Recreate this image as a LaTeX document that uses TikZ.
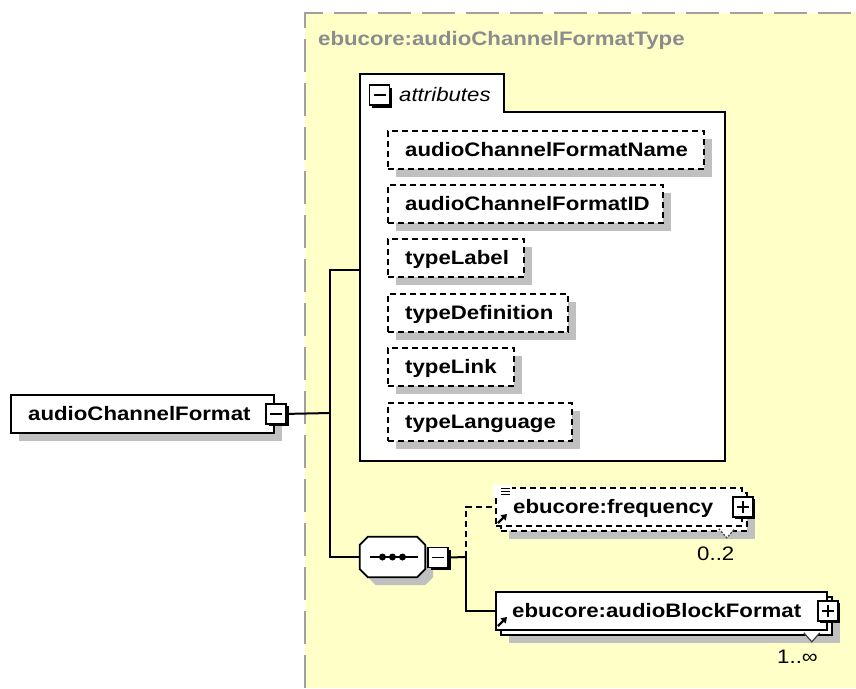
\documentclass[tikz,border=0pt]{standalone}
\usepackage{fontspec}
\setmainfont{Liberation Sans}
\newfontfamily\dfont[FakeStretch=1.14]{Liberation Sans}
\usetikzlibrary{shadows,arrows.meta}

\definecolor{typefill}{HTML}{FFFFC8}
\definecolor{typeframe}{HTML}{A0A0A0}
\definecolor{typetitle}{HTML}{8C8C8C}
\definecolor{shade}{HTML}{C0C0C0}

\tikzset{
  every node/.style={font=\dfont\fontsize{19.5}{23}\selectfont},
  gshadow/.style={drop shadow={shadow xshift=8pt, shadow yshift=-8pt, fill=shade, opacity=1}},
  kshadow/.style={drop shadow={shadow xshift=2.5pt, shadow yshift=-2.5pt, fill=black, opacity=1}},
  elembox/.style={draw, line width=1.8pt, fill=white, anchor=north west,
    minimum height=38pt, inner sep=0pt},
  optbox/.style={elembox, dash pattern=on 6pt off 4pt},
  boxtext/.style={anchor=base west, inner sep=0pt,
    font=\dfont\fontsize{19.5}{23}\selectfont\bfseries},
  plaintext/.style={anchor=base west, inner sep=0pt},
  wire/.style={line width=2pt, draw=black},
  optwire/.style={wire, dash pattern=on 6pt off 4pt},
  toggle/.style={draw, line width=1.8pt, fill=white, minimum size=20pt,
    inner sep=0pt, kshadow},
  minus/.style={toggle, path picture={\draw[line width=1.8pt]
      ([xshift=4pt]path picture bounding box.west) --
      ([xshift=-4pt]path picture bounding box.east);}},
  plus/.style={toggle, path picture={\draw[line width=1.8pt]
      ([xshift=4pt]path picture bounding box.west) --
      ([xshift=-4pt]path picture bounding box.east)
      ([yshift=-4pt]path picture bounding box.north) --
      ([yshift=4pt]path picture bounding box.south);}},
  multmark/.style={draw=black!75, line width=1.2pt, fill=white},
  refarrow/.style={line width=2.2pt, -{Triangle[length=5.5pt,width=7pt]}},
}

\begin{document}
\begin{tikzpicture}[x=1pt,y=-1pt]
\useasboundingbox (0,0) rectangle (856,688);

% complex type area
\fill[typefill] (305,13) rectangle (856,688);
\draw[typeframe, line width=2pt, dash pattern=on 33pt off 11pt]
  (305,688) -- (305,13) -- (856,13);
\node[plaintext, text=typetitle, font=\dfont\fontsize{19.5}{23}\selectfont\bfseries]
  (title) at (318,45) {ebucore:audioChannelFormatType};

% named anchor points of the connectors
\coordinate (bus) at (330,413);
\coordinate (attrin) at (360,270);
\coordinate (fork) at (466,557);
\node[minimum width=65pt, minimum height=40pt, inner sep=0pt] (seq) at (392.5,557) {};

% attribute group frame with its tab
\node[minimum width=365pt, minimum height=387pt, anchor=north west, inner sep=0pt]
  (attr) at (360,74) {};
\draw[line width=2pt, fill=white]
  (attr.north west) -- ++(144,0) -- ++(0,38) -- (attr.east |- 0,112)
  -- (attr.south east) -- (attr.south west) -- cycle;
\node[minus] (attrsq) at (379.5,95) {};
\node[plaintext, font=\dfont\fontsize{19.5}{23}\selectfont\itshape]
  (attrlbl) at (399,101) {attributes};

% optional attributes
\foreach \nm/\tp/\bw [count=\i] in {
    audioChannelFormatName/130/316,
    audioChannelFormatID/184/275,
    typeLabel/238/136,
    typeDefinition/293/180,
    typeLink/347/126,
    typeLanguage/402/184} {
  \node[optbox, gshadow, minimum width=\bw pt] (a\i) at (387,\tp) {};
  \node[boxtext] (a\i txt) at ([xshift=18pt, yshift=-7pt]a\i.west) {\nm};
}

% connectors of the content model
\draw[wire] (attrin) -| (bus) |- (seq.west);

% root element
\node[elembox, gshadow, minimum width=263pt] (root) at (10,394) {};
\node[boxtext] (roottxt) at ([xshift=18pt, yshift=-7pt]root.west) {audioChannelFormat};
\node[minus] (rootsq) at ([xshift=1.5pt]root.east) {};
\draw[wire] (rootsq.east) -- (bus);

% sequence compositor
\draw[line width=1.8pt, fill=white, gshadow]
  ([xshift=8pt]seq.north west) -- ([xshift=-8pt]seq.north east)
  -- ([yshift=-8pt]seq.north east) -- ([yshift=8pt]seq.south east)
  -- ([xshift=-8pt]seq.south east) -- ([xshift=8pt]seq.south west)
  -- ([yshift=8pt]seq.south west) -- ([yshift=-8pt]seq.north west) -- cycle;
\draw[line width=1.8pt] ([xshift=10pt]seq.west) -- ([xshift=-7pt]seq.east);
\foreach \dx in {-10,0,10}
  \fill ([xshift=\dx pt]seq.center) circle (3.5pt);
\node[minus] (seqsq) at (438,557.5) {};

\draw[wire] (seqsq.east) -- (fork);

% ebucore:frequency (optional, 0..2)
\node[optbox, gshadow, minimum width=246pt] (freqback) at (500,492) {};
\node[optbox, minimum width=246pt] (freq) at (495,487) {};
\fill[white] (493,485) rectangle (512,497);
\draw[line width=1.2pt] (501,488.5) -- (510,488.5) (501,491.5) -- (510,491.5) (501,494.5) -- (510,494.5);
\draw[refarrow] (498,523) -- (507,514);
\node[boxtext] (freqtxt) at ([xshift=18pt, yshift=-7pt]freq.west) {ebucore:frequency};
\node[plus] (freqsq) at (freq.east) {};
\draw[multmark, dash pattern=on 2pt off 1.5pt]
  ([xshift=-29pt, yshift=3pt]freqback.south east) -- ([xshift=-21pt, yshift=-6pt]freqback.south east)
  -- ([xshift=-13pt, yshift=3pt]freqback.south east);
\node[plaintext] (freqmult) at (697,560) {0..2};

% ebucore:audioBlockFormat (1..unbounded)
\node[elembox, gshadow, minimum width=331pt] (blockback) at (500,596) {};
\node[elembox, minimum width=331pt] (block) at (495,591) {};
\draw[refarrow] (498,626) -- (507,617);
\node[boxtext] (blocktxt) at ([xshift=17pt, yshift=-7pt]block.west) {ebucore:audioBlockFormat};
\node[plus] (blocksq) at (block.east) {};
\draw[multmark]
  ([xshift=-29pt, yshift=3pt]blockback.south east) -- ([xshift=-21pt, yshift=-6pt]blockback.south east)
  -- ([xshift=-13pt, yshift=3pt]blockback.south east);
\node[plaintext] (blockmult) at (777,663) {1..∞};

\draw[optwire] (fork) |- (freq.west);
\draw[wire] (fork) |- (block.west);
\end{tikzpicture}
\end{document}
